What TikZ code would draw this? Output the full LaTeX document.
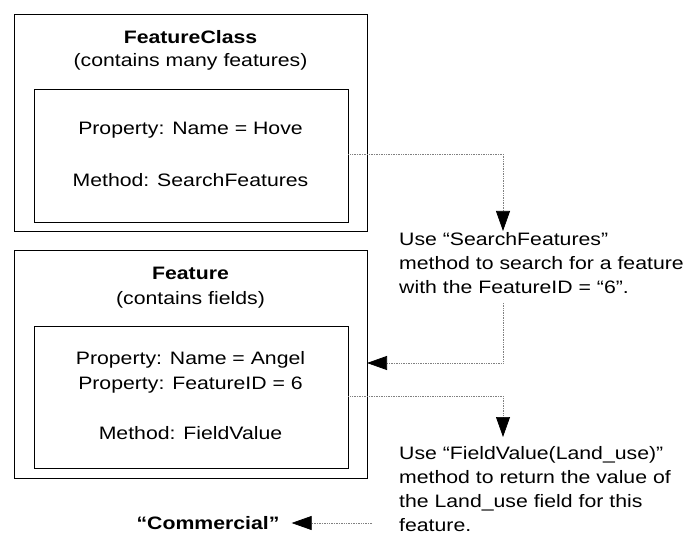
\documentclass[tikz,border=0pt]{standalone}
\usepackage{fontspec}
\setmainfont[FakeStretch=1.18]{Liberation Sans}
\usepackage{tikz}
\usetikzlibrary{positioning}
\usetikzlibrary{arrows.meta}

\begin{document}
\begin{tikzpicture}[
    x = 1pt, y = -1pt,
    every node/.style = {font = \fontsize{18}{24}\selectfont, inner sep = 0pt},
      box/.style = {draw, line width = 0.8pt, minimum width = #1},
      note/.style = {align = left, anchor = north west},
      link/.style = {densely dotted, gray, line width = 0.7pt,
                     -{Triangle[length = 20pt, width = 14pt, color = black]}}
    ]
    \useasboundingbox (0,0) rectangle (693,540);
    % the two objects
    \node[box = 353pt, minimum height = 217pt] (fcbox) at (190.5,122.5) {};
    \node[box = 314pt, minimum height = 133pt] (fcin) at (191,155.5) {};
    \node[box = 353pt, minimum height = 228pt] (fbox) at (190.5,364) {};
    \node[box = 314pt, minimum height = 142pt] (fin) at (191,397) {};
    \node (fctitle) at (190.5,37) {\bfseries FeatureClass};
    \node (fcsub) at (190.5,62) {(contains many features)};
    \node (fcprop) at (190.5,130) {Property: Name = Hove};
    \node (fcmeth) at (190.5,180) {Method: SearchFeatures};
    \node (ftitle) at (190.5,273) {\bfseries Feature};
    \node (fsub) at (190.5,300) {(contains fields)};
    \node (fname) at (190.5,360) {Property: Name = Angel};
    \node (fid) at (190.5,385) {Property: FeatureID = 6};
    \node (fmeth) at (190.5,433) {Method: FieldValue};
    % notes
    \node[note] (search) at (399,232) {Use “SearchFeatures”\\
        method to search for a feature\\with the FeatureID = “6”.};
    \node[note] (value) at (399,446) {Use “FieldValue(Land\_use)”\\
        method to return the value of\\the Land\_use field for this\\feature.};
    \node (comm) at (208,523) {\bfseries “Commercial”};
    % connectors
    \coordinate (a1) at (503,231);
    \coordinate (s2) at (503,303);
    \coordinate (e2) at (367,363);
    \coordinate (a3) at (503,437);
    \coordinate (s4) at (372,523);
    \draw[link] (fcin.east |- 0,154) -| (a1);
    \draw[link] (s2) |- (e2);
    \draw[link] (fin.east |- 0,396) -| (a3);
    \draw[link] (s4) -- ([xshift=12pt]comm.east);
\end{tikzpicture}
\end{document}
